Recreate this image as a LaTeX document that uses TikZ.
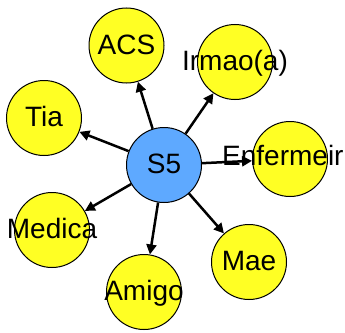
\documentclass[tikz,border=0pt]{standalone}
\usepackage{fontspec}
\setmainfont{Liberation Sans}
\usetikzlibrary{arrows.meta}
\definecolor{nodeyellow}{RGB}{255,255,36}
\definecolor{nodeblue}{RGB}{94,169,255}
\begin{document}
\begin{tikzpicture}[x=1pt,y=-1pt,
  bubble/.style={circle,draw=black,line width=1pt,fill=nodeyellow,minimum size=75pt,inner sep=0pt,
    font=\fontsize{28}{30}\selectfont,text height=20pt,text depth=3pt},
  hub/.style={bubble,fill=nodeblue},
  link/.style={line width=2.5pt,-{Triangle[length=10pt,width=10pt]}}]
\useasboundingbox (0,0) rectangle (345,332);
\node[hub] (s5) at (164,165) {\makebox[0pt]{S5}};
\node[bubble] (acs) at (126.5,45.5) {\makebox[0pt]{ACS}};
\node[bubble] (irmao) at (235,62) {\makebox[0pt]{Irmao(a)}};
\node[bubble] (tia) at (44,118) {\makebox[0pt]{Tia}};
\node[bubble] (enf) at (290,159) {};
\node[anchor=base west,inner sep=0pt,font=\fontsize{28}{30}\selectfont] (enftext) at (222,165) {Enfermeir};
\node[bubble] (medica) at (52,230) {\makebox[0pt]{Medica}};
\node[bubble] (amigo) at (144,292) {\makebox[0pt]{Amigo}};
\node[bubble] (mae) at (249,262) {\makebox[0pt]{Mae}};
\foreach \t in {acs,irmao,tia,enf,medica,amigo,mae}
  \draw[link] (s5) -- (\t);
\end{tikzpicture}
\end{document}
